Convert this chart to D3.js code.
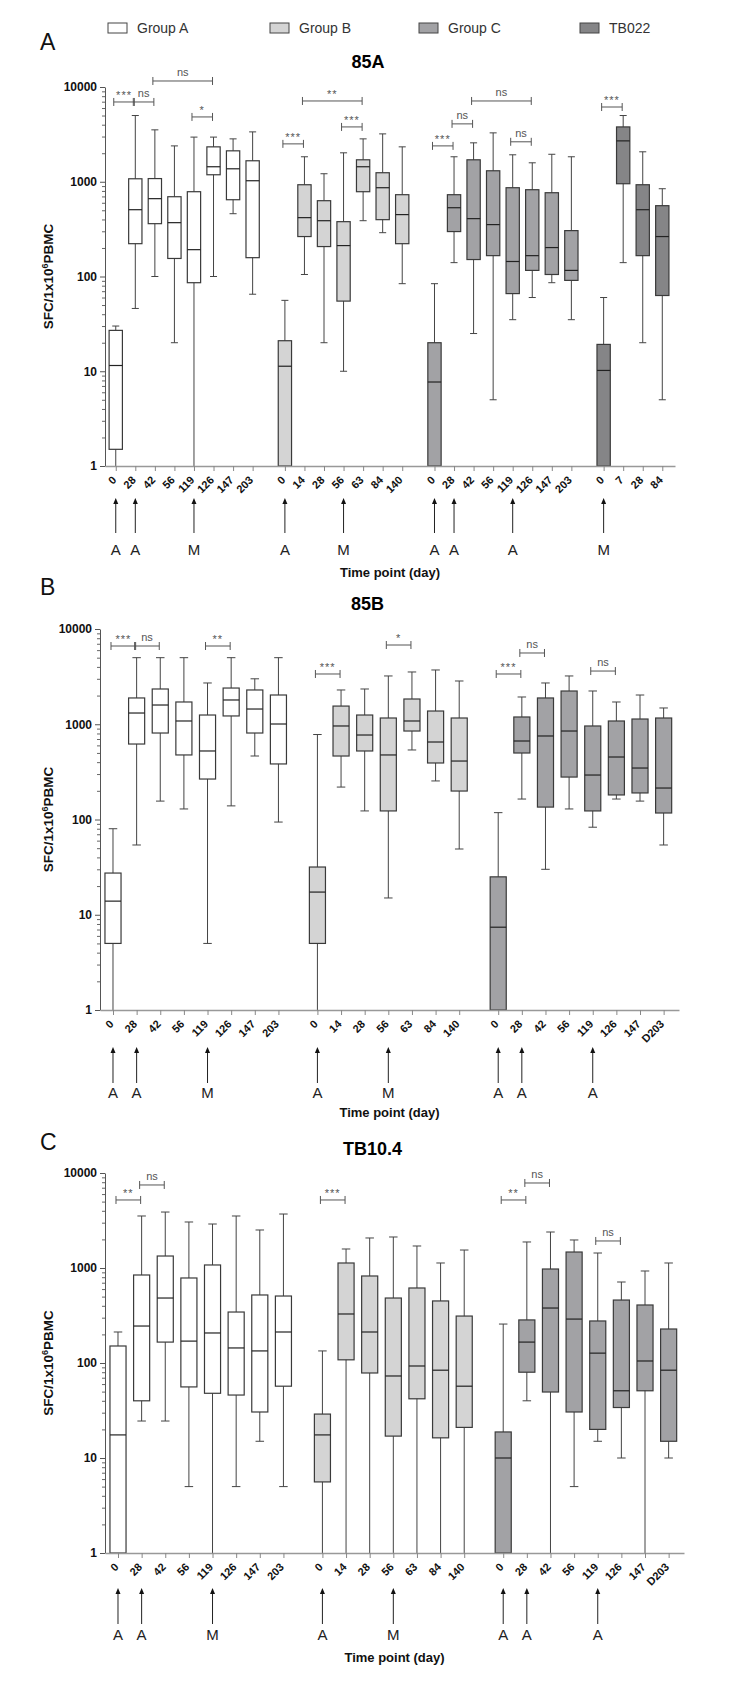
<!DOCTYPE html>
<html>
<head>
<meta charset="utf-8">
<script src="https://cdnjs.cloudflare.com/ajax/libs/d3/7.8.5/d3.min.js"></script>
<style>
  body { margin: 0; background: #fff; }
</style>
</head>
<body>
<div id="chart"></div>
<script>
// legend
var groupNames = ['Group A', 'Group B', 'Group C', 'TB022'];
var groupFills = ['#ffffff', '#d4d4d4', '#a2a2a5', '#858587'];

// time point tick labels, one list per group
var daysA = [
  ['0', '28', '42', '56', '119', '126', '147', '203'],
  ['0', '14', '28', '56', '63', '84', '140'],
  ['0', '28', '42', '56', '119', '126', '147', '203'],
  ['0', '7', '28', '84']
];
var daysBC = [
  ['0', '28', '42', '56', '119', '126', '147', '203'],
  ['0', '14', '28', '56', '63', '84', '140'],
  ['0', '28', '42', '56', '119', '126', '147', 'D203']
];

// box summaries [min, q1, median, q3, max], SFC per 1x10^6 PBMC
var a85_groupA = [
  [1, 1.5, 11.5, 27, 30], [46, 222, 507, 1075, 5000], [100, 361, 663, 1080, 3530],
  [20, 155, 370, 695, 2390], [1, 86, 192, 785, 2960], [100, 1185, 1440, 2335, 2960],
  [460, 646, 1370, 2120, 2835], [65, 158, 1025, 1665, 3360]
];
var a85_groupB = [
  [1, 1, 11.3, 21, 56], [105, 264, 418, 930, 1835], [20, 207, 388, 631, 1215],
  [10, 55, 212, 379, 2020], [388, 785, 1440, 1705, 2835], [290, 398, 865, 1245, 3200],
  [84, 222, 450, 730, 2335]
];
var a85_groupC = [
  [1, 1, 7.7, 20, 84], [140, 298, 532, 730, 1835], [25, 151, 408, 1705, 2575],
  [5, 166, 353, 1306, 3280], [35, 66, 144, 865, 1925], [60, 116, 166, 824, 1585],
  [86, 105, 202, 766, 1950], [35, 91, 116, 305, 1835]
];
var a85_tb022 = [
  [1, 1, 10.2, 19.2, 60], [140, 953, 2700, 3790, 5000], [20, 166, 507, 930, 2070],
  [5, 63, 264, 559, 844]
];

var b85_groupA = [
  [1, 5, 13.9, 27.4, 80], [54, 620, 1312, 1888, 5000], [156, 809, 1592, 2345, 5000],
  [129, 476, 1082, 1713, 5000], [5, 266, 524, 1250, 2712], [139, 1222, 1798, 2400, 5000],
  [464, 809, 1445, 2290, 3000], [94, 383, 1006, 2028, 5000]
];
var b85_groupB = [
  [1, 5, 17.3, 31.7, 780], [219, 464, 959, 1552, 2290], [123, 524, 771, 1250, 2345],
  [15, 123, 476, 1163, 3213], [537, 849, 1082, 1841, 3538], [254, 392, 651, 1377, 3714],
  [49, 199, 411, 1163, 2845]
];
var b85_groupC = [
  [1, 1, 7.4, 25, 118], [164, 499, 667, 1192, 1933], [30, 135, 753, 1888, 2712],
  [129, 279, 849, 2234, 3213], [83, 123, 293, 959, 2234], [164, 181, 453, 1082, 1713],
  [156, 190, 347, 1135, 2028], [54, 117, 214, 1163, 1482]
];

var c104_groupA = [
  [1, 1, 17.5, 151, 212], [24.5, 40, 245, 844, 3527], [24.5, 166, 483, 1337, 3882],
  [5, 56, 170, 785, 3050], [1, 48, 207, 1076, 2905], [5, 46, 144, 344, 3527],
  [15, 30.5, 134, 520, 2512], [5, 57, 212, 507, 3700]
];
var c104_groupB = [
  [1, 5.6, 17.5, 29, 134], [1, 108, 328, 1129, 1585], [1, 78.5, 212, 824, 2070],
  [1, 17, 73, 483, 2120], [1, 42, 93, 616, 1705], [1, 16.3, 84, 450, 1129],
  [1, 21, 57, 312, 1546]
];
var c104_groupC = [
  [1, 1, 10, 18.8, 257], [40, 80, 166, 284, 1879], [1, 49.5, 379, 976, 2393],
  [5, 30.5, 290, 1473, 1972], [15, 20, 127, 277, 1438], [10, 34, 51, 460, 712],
  [1, 51, 105, 408, 930], [10, 15, 84, 228, 1129]
];

// significance brackets [group, from box, to box, label, height value]
var a85_brackets = [
  [0, 0, 1, '***', 6950], [0, 1, 2, 'ns', 6950], [0, 2, 5, 'ns', 11570], [0, 4, 5, '*', 4830],
  [1, 0, 1, '***', 2510], [1, 1, 4, '**', 7120], [1, 3, 4, '***', 3790],
  [2, 0, 1, '***', 2390], [2, 1, 2, 'ns', 4080], [2, 2, 5, 'ns', 7120], [2, 4, 5, 'ns', 2640],
  [3, 0, 1, '***', 6150]
];
var b85_brackets = [
  [0, 0, 1, '***', 6630], [0, 1, 2, 'ns', 6630], [0, 4, 5, '**', 6630],
  [1, 0, 1, '***', 3370], [1, 3, 4, '*', 6790],
  [2, 0, 1, '***', 3370], [2, 1, 2, 'ns', 5600], [2, 4, 5, 'ns', 3620]
];
var c104_brackets = [
  [0, 0, 1, '**', 5200], [0, 1, 2, 'ns', 7480],
  [1, 0, 1, '***', 5200],
  [2, 0, 1, '**', 5200], [2, 1, 2, 'ns', 7850], [2, 4, 5, 'ns', 1925]
];

// immunisation arrows [group, box, label]
var a85_arrows = [[0, 0, 'A'], [0, 1, 'A'], [0, 4, 'M'], [1, 0, 'A'], [1, 3, 'M'],
  [2, 0, 'A'], [2, 1, 'A'], [2, 4, 'A'], [3, 0, 'M']];
var bc_arrows = [[0, 0, 'A'], [0, 1, 'A'], [0, 4, 'M'], [1, 0, 'A'], [1, 3, 'M'],
  [2, 0, 'A'], [2, 1, 'A'], [2, 4, 'A']];

var yTicks = [1, 10, 100, 1000, 10000];

var FONT = "'Liberation Sans', Arial, sans-serif";
var GROUP_GAP = 0.65;
var legendX = [108, 270, 419, 580];

var panels = [
  { letter: 'A', title: '85A', groups: [a85_groupA, a85_groupB, a85_groupC, a85_tb022], days: daysA,
    brackets: a85_brackets, arrows: a85_arrows,
    top: 87, bottom: 466, left: 105, right: 675, letterY: 50, titleY: 68,
    arrowTop: 498, arrowBottom: 533, markY: 555, xTitleY: 577 },
  { letter: 'B', title: '85B', groups: [b85_groupA, b85_groupB, b85_groupC], days: daysBC,
    brackets: b85_brackets, arrows: bc_arrows,
    top: 629, bottom: 1010, left: 100, right: 679, letterY: 595, titleY: 610,
    arrowTop: 1047, arrowBottom: 1083, markY: 1098, xTitleY: 1117 },
  { letter: 'C', title: 'TB10.4', groups: [c104_groupA, c104_groupB, c104_groupC], days: daysBC,
    brackets: c104_brackets, arrows: bc_arrows,
    top: 1173, bottom: 1553, left: 105, right: 684, letterY: 1150, titleY: 1155,
    arrowTop: 1588, arrowBottom: 1624, markY: 1640, xTitleY: 1662 }
];

var svg = d3.select('#chart').append('svg')
  .attr('width', 746).attr('height', 1684)
  .style('font-family', FONT);

// legend row
groupNames.forEach(function (name, i) {
  var g = svg.append('g').attr('transform', 'translate(' + legendX[i] + ',23)');
  g.append('rect').attr('width', 19).attr('height', 10)
    .attr('fill', groupFills[i]).attr('stroke', '#444').attr('stroke-width', 1);
  g.append('text').attr('x', 29).attr('y', 10).attr('font-size', 14).attr('fill', '#333').text(name);
});

panels.forEach(function (p) {
  // slot positions: boxes side by side, a small gap between groups
  var slots = [];
  var off = 0;
  p.days.forEach(function (labels, g) {
    labels.forEach(function (lbl, i) {
      slots.push({ g: g, i: i, s: off + i, label: lbl });
    });
    off += labels.length + GROUP_GAP;
  });
  var last = slots[slots.length - 1].s;
  var x = d3.scaleLinear().domain([-0.55, last + 0.65]).range([p.left, p.right]);
  var y = d3.scaleLog().domain([1, 10000]).range([p.bottom, p.top]);
  var step = x(1) - x(0);
  var boxW = step * 0.68;
  var capW = step * 0.36;

  function slotX(g, i) {
    var s = slots.filter(function (d) { return d.g === g && d.i === i; })[0];
    return x(s.s);
  }

  var panel = svg.append('g');

  panel.append('text').attr('x', 40).attr('y', p.letterY)
    .attr('font-size', 23).attr('fill', '#111').text(p.letter);
  panel.append('text').attr('x', (p.left + p.right) / 2 - 22).attr('y', p.titleY)
    .attr('text-anchor', 'middle').attr('font-size', 18).attr('font-weight', 'bold').text(p.title);

  // y axis (log) with minor ticks
  var minor = [];
  for (var k = 0; k < 4; k++) {
    for (var m = 2; m < 10; m++) minor.push(m * Math.pow(10, k));
  }
  var yAxisG = panel.append('g').attr('transform', 'translate(' + p.left + ',0)');
  yAxisG.append('g').call(d3.axisLeft(y).tickValues(minor).tickFormat('').tickSize(3).tickSizeOuter(0))
    .call(function (a) { a.select('.domain').remove(); a.selectAll('line').attr('stroke', '#666'); });
  yAxisG.append('g').call(d3.axisLeft(y).tickValues(yTicks).tickFormat(d3.format('d')).tickSize(5).tickPadding(3).tickSizeOuter(0))
    .call(function (a) {
      a.select('.domain').attr('stroke', '#555');
      a.selectAll('line').attr('stroke', '#555');
      a.selectAll('text').attr('font-size', 12).attr('font-weight', 'bold').attr('fill', '#111')
        .attr('font-family', FONT);
    });

  var yLab = panel.append('text')
    .attr('transform', 'translate(53,' + ((p.top + p.bottom) / 2) + ') rotate(-90)')
    .attr('text-anchor', 'middle').attr('font-size', 13.5).attr('font-weight', 'bold').attr('fill', '#111');
  yLab.append('tspan').text('SFC/1x10');
  yLab.append('tspan').attr('font-size', 9).attr('dy', -5).text('6');
  yLab.append('tspan').attr('dy', 5).text('PBMC');

  // boxes
  p.groups.forEach(function (rows, g) {
    var fill = groupFills[g];
    rows.forEach(function (d, i) {
      var cx = slotX(g, i);
      var bg = panel.append('g');
      bg.append('line').attr('x1', cx).attr('x2', cx).attr('y1', y(d[0])).attr('y2', y(d[4]))
        .attr('stroke', '#444').attr('stroke-width', 1);
      bg.append('line').attr('x1', cx - capW / 2).attr('x2', cx + capW / 2)
        .attr('y1', y(d[4])).attr('y2', y(d[4])).attr('stroke', '#444').attr('stroke-width', 1);
      if (d[0] > 1) {
        bg.append('line').attr('x1', cx - capW / 2).attr('x2', cx + capW / 2)
          .attr('y1', y(d[0])).attr('y2', y(d[0])).attr('stroke', '#444').attr('stroke-width', 1);
      }
      bg.append('rect').attr('x', cx - boxW / 2).attr('width', boxW)
        .attr('y', y(d[3])).attr('height', y(d[1]) - y(d[3]))
        .attr('fill', fill).attr('stroke', '#3a3a3a').attr('stroke-width', 1.2);
      bg.append('line').attr('x1', cx - boxW / 2).attr('x2', cx + boxW / 2)
        .attr('y1', y(d[2])).attr('y2', y(d[2])).attr('stroke', '#222').attr('stroke-width', 1.2);
    });
  });

  // x axis
  var xAxisG = panel.append('g').attr('transform', 'translate(0,' + p.bottom + ')')
    .call(d3.axisBottom(x).tickValues(slots.map(function (d) { return d.s; }))
      .tickFormat(function (d, k) { return slots[k].label; }).tickSize(5).tickSizeOuter(0));
  xAxisG.select('.domain').attr('stroke', '#999').attr('stroke-width', 1.6);
  xAxisG.selectAll('line').attr('stroke', '#888');
  xAxisG.selectAll('text')
    .attr('x', 0).attr('y', 0).attr('dy', '0.35em')
    .attr('transform', 'translate(-2,12) rotate(-45)')
    .attr('text-anchor', 'end').attr('font-size', 11).attr('font-weight', 'bold')
    .attr('fill', '#111').attr('font-family', FONT);

  // significance brackets
  p.brackets.forEach(function (b) {
    var x1 = slotX(b[0], b[1]) - 2;
    var x2 = slotX(b[0], b[2]) - 1;
    var by = y(b[4]);
    var bg = panel.append('g').attr('stroke', '#555').attr('stroke-width', 1);
    bg.append('line').attr('x1', x1).attr('x2', x2).attr('y1', by).attr('y2', by);
    bg.append('line').attr('x1', x1).attr('x2', x1).attr('y1', by - 4).attr('y2', by + 4);
    bg.append('line').attr('x1', x2).attr('x2', x2).attr('y1', by - 4).attr('y2', by + 4);
    panel.append('text').attr('x', (x1 + x2) / 2).attr('y', by - (b[3] === 'ns' ? 5 : 3))
      .attr('text-anchor', 'middle').attr('font-size', 11).attr('fill', '#555')
      .attr('letter-spacing', b[3] === 'ns' ? 0 : 1).text(b[3]);
  });

  // immunisation arrows
  p.arrows.forEach(function (a) {
    var ax = slotX(a[0], a[1]);
    panel.append('line').attr('x1', ax).attr('x2', ax).attr('y1', p.arrowTop + 5).attr('y2', p.arrowBottom)
      .attr('stroke', '#222').attr('stroke-width', 1);
    panel.append('path')
      .attr('d', 'M' + ax + ',' + p.arrowTop + 'L' + (ax - 2.5) + ',' + (p.arrowTop + 6) + 'L' + (ax + 2.5) + ',' + (p.arrowTop + 6) + 'Z')
      .attr('fill', '#111');
    panel.append('text').attr('x', ax).attr('y', p.markY).attr('text-anchor', 'middle')
      .attr('font-size', 15).attr('fill', '#222').text(a[2]);
  });

  panel.append('text').attr('x', (p.left + p.right) / 2).attr('y', p.xTitleY)
    .attr('text-anchor', 'middle').attr('font-size', 13).attr('font-weight', 'bold')
    .attr('fill', '#111').text('Time point (day)');
});
</script>
</body>
</html>
